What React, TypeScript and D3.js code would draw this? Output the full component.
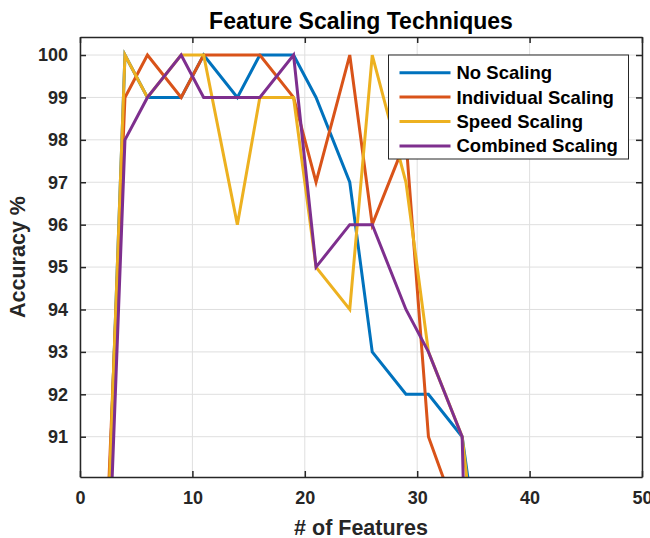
import React, { useEffect, useRef } from 'react'
import * as d3 from 'd3'

// feature counts on the x axis
const features = [1, 4, 6, 9, 11, 14, 16, 19, 21, 24, 26, 29, 31, 34, 36]

// accuracy (%) per technique
const noScaling = [78, 100, 99, 99, 100, 99, 100, 100, 99, 97, 93, 92, 92, 91, 87.2]
const individualScaling = [80, 99, 100, 99, 100, 100, 100, 99, 97, 100, 96, 98, 91, 88.8, 87]
const speedScaling = [78, 100, 99, 100, 100, 96, 99, 99, 95, 94, 100, 97, 93, 91, 86.3]
const combinedScaling = [77, 98, 99, 100, 99, 99, 99, 100, 95, 96, 96, 94, 93, 91, 70]

const seriesNames = ['No Scaling', 'Individual Scaling', 'Speed Scaling', 'Combined Scaling']
const seriesColors = ['#0072BD', '#D95319', '#EDB120', '#7E2F8E']

const xTicks = [0, 10, 20, 30, 40, 50]
const yTicks = [91, 92, 93, 94, 95, 96, 97, 98, 99, 100]

const FONT = 'Liberation Sans, Arial, Helvetica, sans-serif'
const INK = '#262626'

function App() {
  const ref = useRef<SVGSVGElement>(null)

  useEffect(() => {
    const svg = d3.select(ref.current)
    svg.selectAll('*').remove()

    const margin = { top: 37, right: 8, bottom: 61, left: 80 }
    const width = 650 - margin.left - margin.right
    const height = 538 - margin.top - margin.bottom

    const x = d3.scaleLinear().domain([0, 50]).range([0, width])
    const y = d3.scaleLinear().domain([90.05, 100.425]).range([height, 0])

    svg
      .append('defs')
      .append('clipPath')
      .attr('id', 'plot-clip')
      .append('rect')
      .attr('width', width)
      .attr('height', height)

    const g = svg
      .append('g')
      .attr('transform', `translate(${margin.left},${margin.top})`)

    g.append('rect').attr('width', width).attr('height', height).attr('fill', '#fff')

    // grid
    g.append('g')
      .selectAll('line')
      .data(yTicks)
      .enter()
      .append('line')
      .attr('x1', 0)
      .attr('x2', width)
      .attr('y1', (d) => y(d))
      .attr('y2', (d) => y(d))
      .attr('stroke', '#dfdfdf')
      .attr('stroke-width', 1)
    g.append('g')
      .selectAll('line')
      .data(xTicks)
      .enter()
      .append('line')
      .attr('x1', (d) => x(d))
      .attr('x2', (d) => x(d))
      .attr('y1', 0)
      .attr('y2', height)
      .attr('stroke', '#dfdfdf')
      .attr('stroke-width', 1)

    // lines
    const allSeries = [noScaling, individualScaling, speedScaling, combinedScaling]
    const line = d3
      .line<number>()
      .x((d, i) => x(features[i]))
      .y((d) => y(d))
    const lines = g.append('g').attr('clip-path', 'url(#plot-clip)')
    allSeries.forEach((s, i) => {
      lines
        .append('path')
        .datum(s)
        .attr('d', line)
        .attr('fill', 'none')
        .attr('stroke', seriesColors[i])
        .attr('stroke-width', 3)
        .attr('stroke-linejoin', 'miter')
    })

    // axes (box with inward ticks)
    const styleAxis = (sel: any, hideLabels: boolean) => {
      sel.select('.domain').attr('stroke', INK).attr('stroke-width', 1.5)
      sel.selectAll('.tick line').attr('stroke', INK).attr('stroke-width', 1.5)
      sel
        .selectAll('.tick text')
        .attr('fill', INK)
        .style('font-family', FONT)
        .style('font-size', '18px')
        .style('font-weight', 'bold')
      if (hideLabels) sel.selectAll('.tick text').remove()
    }

    g.append('g')
      .attr('transform', `translate(0,${height})`)
      .call(d3.axisBottom(x).tickValues(xTicks).tickSize(-6).tickPadding(14).tickSizeOuter(0))
      .call((s) => styleAxis(s, false))
    g.append('g')
      .call(d3.axisTop(x).tickValues(xTicks).tickSize(-6).tickSizeOuter(0))
      .call((s) => styleAxis(s, true))
    g.append('g')
      .call(
        d3
          .axisLeft(y)
          .tickValues(yTicks)
          .tickFormat(d3.format('d'))
          .tickSize(-6)
          .tickPadding(12)
          .tickSizeOuter(0),
      )
      .call((s) => styleAxis(s, false))
    g.append('g')
      .attr('transform', `translate(${width},0)`)
      .call(d3.axisRight(y).tickValues(yTicks).tickSize(-6).tickSizeOuter(0))
      .call((s) => styleAxis(s, true))

    // title and axis labels
    svg
      .append('text')
      .attr('x', margin.left + width / 2)
      .attr('y', 29)
      .attr('text-anchor', 'middle')
      .attr('fill', '#000')
      .style('font-family', FONT)
      .style('font-size', '23px')
      .style('font-weight', 'bold')
      .text('Feature Scaling Techniques')

    svg
      .append('text')
      .attr('x', margin.left + width / 2)
      .attr('y', 535)
      .attr('text-anchor', 'middle')
      .attr('fill', INK)
      .style('font-family', FONT)
      .style('font-size', '21.5px')
      .style('font-weight', 'bold')
      .text('# of Features')

    svg
      .append('text')
      .attr('transform', `translate(25,${margin.top + height / 2}) rotate(-90)`)
      .attr('text-anchor', 'middle')
      .attr('fill', INK)
      .style('font-family', FONT)
      .style('font-size', '21.5px')
      .style('font-weight', 'bold')
      .text('Accuracy %')

    // legend
    const legend = svg.append('g').attr('transform', 'translate(388.5,55)')
    legend
      .append('rect')
      .attr('width', 240)
      .attr('height', 104)
      .attr('fill', '#fff')
      .attr('stroke', INK)
      .attr('stroke-width', 1)
    seriesNames.forEach((name, i) => {
      const cy = 17.7 + i * 24.4
      legend
        .append('line')
        .attr('x1', 11)
        .attr('x2', 62)
        .attr('y1', cy)
        .attr('y2', cy)
        .attr('stroke', seriesColors[i])
        .attr('stroke-width', 3)
      legend
        .append('text')
        .attr('x', 68)
        .attr('y', cy)
        .attr('dy', '0.35em')
        .attr('fill', '#000')
        .style('font-family', FONT)
        .style('font-size', '18.5px')
        .style('font-weight', 'bold')
        .text(name)
    })
  }, [])

  return (
    <svg
      ref={ref}
      width={650}
      height={538}
      style={{ position: 'absolute', left: 0, top: 0, display: 'block' }}
    />
  )
}

export default App
